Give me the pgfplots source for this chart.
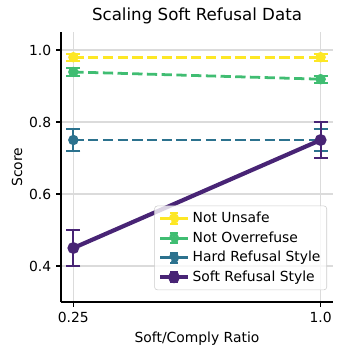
\documentclass[border=0pt]{standalone}
\usepackage{pgfplots}
\pgfplotsset{compat=1.18}
\usepackage{fontspec}
\setmainfont{DejaVu Sans}
\definecolor{cyel}{HTML}{FDE725}
\definecolor{cgrn}{HTML}{40BD72}
\definecolor{ctea}{HTML}{2C728E}
\definecolor{cpur}{HTML}{482475}
\pgfplotsset{
  errleg/.style={legend image code/.code={
    \draw[##1,solid] (0cm,0cm) -- (0.7cm,0cm);
    \draw[##1,solid,line width=1.5pt] (0.35cm,-0.13cm) -- (0.35cm,0.13cm);
    \draw[##1,solid,line width=1.5pt] (0.25cm,-0.13cm) -- (0.45cm,-0.13cm);
    \draw[##1,solid,line width=1.5pt] (0.25cm,0.13cm) -- (0.45cm,0.13cm);
    \fill[##1] (0.35cm,0cm) circle (2.7pt);
  }}
}
\begin{document}
\begin{tikzpicture}
\useasboundingbox (-43.92pt,-38.16pt) rectangle (202.32pt,217.44pt);
\begin{axis}[
  at={(0,0)}, anchor=south west,
  scale only axis, width=195.84pt, height=194.4pt,
  xmin=0.2125, xmax=1.0375, ymin=0.3, ymax=1.05,
  xtick={0.25,1.0}, xticklabels={0.25,1.0},
  ytick={0.4,0.6,0.8,1.0},
  yticklabel style={/pgf/number format/.cd,fixed,fixed zerofill,precision=1},
  /pgf/number format/assume math mode=true,
  axis x line*=bottom, axis y line*=left,
  axis line style={line width=0.8pt,-},
  tick align=outside, major tick length=3.5pt,
  every tick/.style={black,line width=0.8pt},
  grid=major, major grid style={line width=0.8pt,color=black!14},
  tick label style={font=\fontsize{10}{12}\selectfont},
  label style={font=\fontsize{10}{12}\selectfont},
  title style={font=\fontsize{12}{14}\selectfont, yshift=-4pt},
  title={Scaling Soft Refusal Data},
  xlabel={Soft/Comply Ratio}, ylabel={Score},
  ylabel style={yshift=-2pt},
  legend style={at={(0.978,0.044)}, anchor=south east,
    font=\fontsize{10}{12}\selectfont, draw=black!20, fill=white, fill opacity=0.8, text opacity=1,
    rounded corners=2pt, inner sep=2.5pt, row sep=1pt, cells={anchor=west}},
  error bars/y dir=both, error bars/y explicit,
  error bars/error bar style={line width=1.5pt, solid},
  error bars/error mark options={rotate=90, mark size=5pt, line width=1.5pt, solid},
]
\addplot[color=cyel, line width=2pt, dash pattern=on 7.4pt off 3.2pt, mark=*, mark size=2.7pt, mark options={solid}, errleg]
  coordinates {(0.25,0.98) +- (0,0.01) (1.0,0.98) +- (0,0.01)};
\addlegendentry{Not Unsafe}
\addplot[color=cgrn, line width=2pt, dash pattern=on 7.4pt off 3.2pt, mark=*, mark size=2.7pt, mark options={solid}, errleg]
  coordinates {(0.25,0.939) +- (0,0.01) (1.0,0.919) +- (0,0.01)};
\addlegendentry{Not Overrefuse}
\addplot[color=ctea, line width=2pt, dash pattern=on 7.4pt off 3.2pt, mark=*, mark size=2.7pt, mark options={solid}, errleg]
  coordinates {(0.25,0.75) +- (0,0.03) (1.0,0.75) +- (0,0.03)};
\addlegendentry{Hard Refusal Style}
\addplot[color=cpur, line width=3pt, mark=*, mark size=2.7pt, errleg]
  coordinates {(0.25,0.45) +- (0,0.05) (1.0,0.75) +- (0,0.05)};
\addlegendentry{Soft Refusal Style}
\end{axis}
\end{tikzpicture}
\end{document}
